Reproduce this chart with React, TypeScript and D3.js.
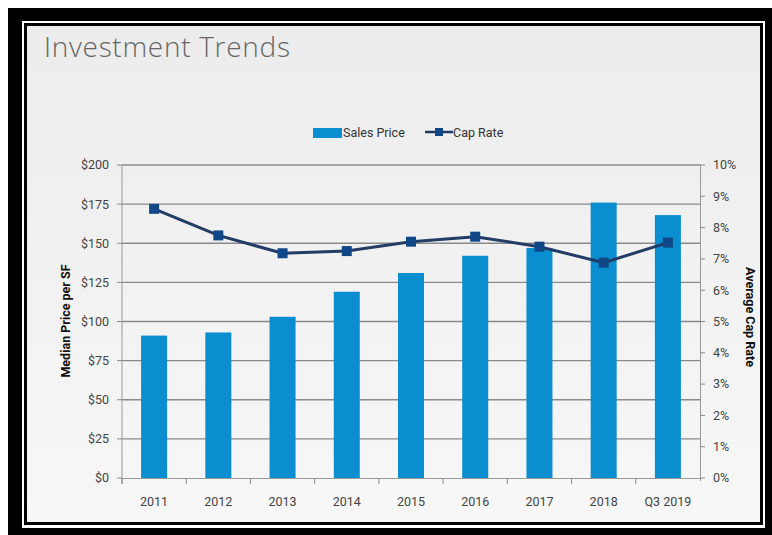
import React from "react";
import * as d3 from "d3";

const categories = ["2011", "2012", "2013", "2014", "2015", "2016", "2017", "2018", "Q3 2019"];
const salesPrice = [91, 93, 103, 119, 131, 142, 147, 176, 168];
const capRate = [8.6, 7.75, 7.18, 7.25, 7.55, 7.71, 7.39, 6.88, 7.52];
const leftTicks = [0, 25, 50, 75, 100, 125, 150, 175, 200];
const rightTicks = [0, 1, 2, 3, 4, 5, 6, 7, 8, 9, 10];

const W = 772;
const H = 535;
const FONT = "Roboto, 'Liberation Sans', Arial, sans-serif";
const BAR = "#0b8ed0";
const LINE = "#223c66";
const MARK = "#0f4787";
const GRID = "#8a8a8a";
const TXT = "#444";

export default function App() {
  const x = d3.scaleBand<string>().domain(categories).range([122, 700]).padding(0);
  const yL = d3.scaleLinear().domain([0, 200]).range([478, 165]);
  const yR = d3.scaleLinear().domain([0, 10]).range([478, 165]);
  const bw = x.bandwidth() * 0.405;
  const cx = (c: string) => (x(c) as number) + x.bandwidth() / 2;
  const line = d3
    .line<number>()
    .x((_, i) => cx(categories[i]))
    .y((d) => yR(d));

  return (
    <div style={{ position: "absolute", left: 0, top: 0 }}>
      <svg width={W} height={H} style={{ display: "block" }}>
        <defs>
          <linearGradient id="bg" x1="0" y1="0" x2="0" y2="1">
            <stop offset="0" stopColor="#ececec" />
            <stop offset="1" stopColor="#f7f7f7" />
          </linearGradient>
        </defs>
        <rect x={0} y={0} width={W} height={H} fill="#ffffff" />
        <rect x={8} y={8} width={764} height={527} fill="#000" />
        <rect x={22} y={21} width={743} height={507} fill="#fff" />
        <rect x={24} y={23} width={739} height={502} fill="#000" />
        <rect x={27} y={26} width={733} height={496} fill="url(#bg)" />

        <text x={44} y={57} fontFamily="'Open Sans', sans-serif" fontWeight={300} fontSize={28} letterSpacing={0.7} fill="#666">
          Investment Trends
        </text>

        {/* legend */}
        <rect x={313} y={128} width={29} height={10} fill={BAR} />
        <text x={343} y={136.5} fontFamily={FONT} fontSize={12.5} fill="#333">Sales Price</text>
        <line x1={425} x2={453} y1={132} y2={132} stroke={LINE} strokeWidth={2.5} />
        <rect x={435} y={128} width={8} height={8} fill={MARK} />
        <text x={453} y={136.5} fontFamily={FONT} fontSize={12.5} fill="#333">Cap Rate</text>

        {/* gridlines */}
        {leftTicks.filter((t) => t > 0).map((t) => (
          <line key={"g" + t} x1={122} x2={700} y1={yL(t)} y2={yL(t)} stroke={GRID} strokeWidth={1.3} />
        ))}

        {/* left axis */}
        <line x1={122} x2={122} y1={165} y2={484} stroke="#9a9a9a" strokeWidth={1} />
        {leftTicks.map((t) => (
          <g key={"l" + t}>
            <line x1={117} x2={122} y1={yL(t)} y2={yL(t)} stroke="#8a8a8a" strokeWidth={1} />
            <text x={109} y={yL(t)} dy="0.35em" textAnchor="end" fontFamily={FONT} fontSize={12.5} fill={TXT}>
              {"$" + t}
            </text>
          </g>
        ))}

        {/* right axis */}
        <line x1={700.5} x2={700.5} y1={165} y2={481} stroke="#9a9a9a" strokeWidth={1} />
        {rightTicks.map((t) => (
          <g key={"r" + t}>
            <line x1={700} x2={705} y1={yR(t)} y2={yR(t)} stroke="#8a8a8a" strokeWidth={1} />
            <text x={713} y={yR(t)} dy="0.35em" fontFamily={FONT} fontSize={12.5} fill={TXT}>
              {t + "%"}
            </text>
          </g>
        ))}

        {/* bars */}
        {categories.map((c, i) => (
          <rect key={"b" + c} x={cx(c) - bw / 2} y={yL(salesPrice[i])} width={bw} height={yL(0) - yL(salesPrice[i])} fill={BAR} />
        ))}

        {/* x axis */}
        <line x1={122} x2={700} y1={478.5} y2={478.5} stroke="#9a9a9a" strokeWidth={1} />
        {categories.map((c) => (
          <line key={"t" + c} x1={(x(c) as number)} x2={(x(c) as number)} y1={478} y2={484} stroke="#8a8a8a" strokeWidth={1} />
        ))}
        {categories.map((c) => (
          <text key={"x" + c} x={cx(c)} y={506} textAnchor="middle" fontFamily={FONT} fontSize={12.5} fill={TXT}>
            {c}
          </text>
        ))}

        {/* cap rate line */}
        <path d={line(capRate) || ""} fill="none" stroke={LINE} strokeWidth={3} />
        {capRate.map((v, i) => (
          <rect key={"m" + i} x={cx(categories[i]) - 5} y={yR(v) - 5} width={10} height={10} fill={MARK} />
        ))}

        {/* axis titles */}
        <text
          transform="translate(66,321) rotate(-90)"
          textAnchor="middle"
          dy="0.35em"
          fontFamily={FONT}
          fontWeight={700}
          fontSize={12.5}
          fill="#111"
        >
          Median Price per SF
        </text>
        <text
          transform="translate(750,317) rotate(90)"
          textAnchor="middle"
          dy="0.35em"
          fontFamily={FONT}
          fontWeight={700}
          fontSize={12.5}
          fill="#111"
        >
          Average Cap Rate
        </text>
      </svg>
    </div>
  );
}
